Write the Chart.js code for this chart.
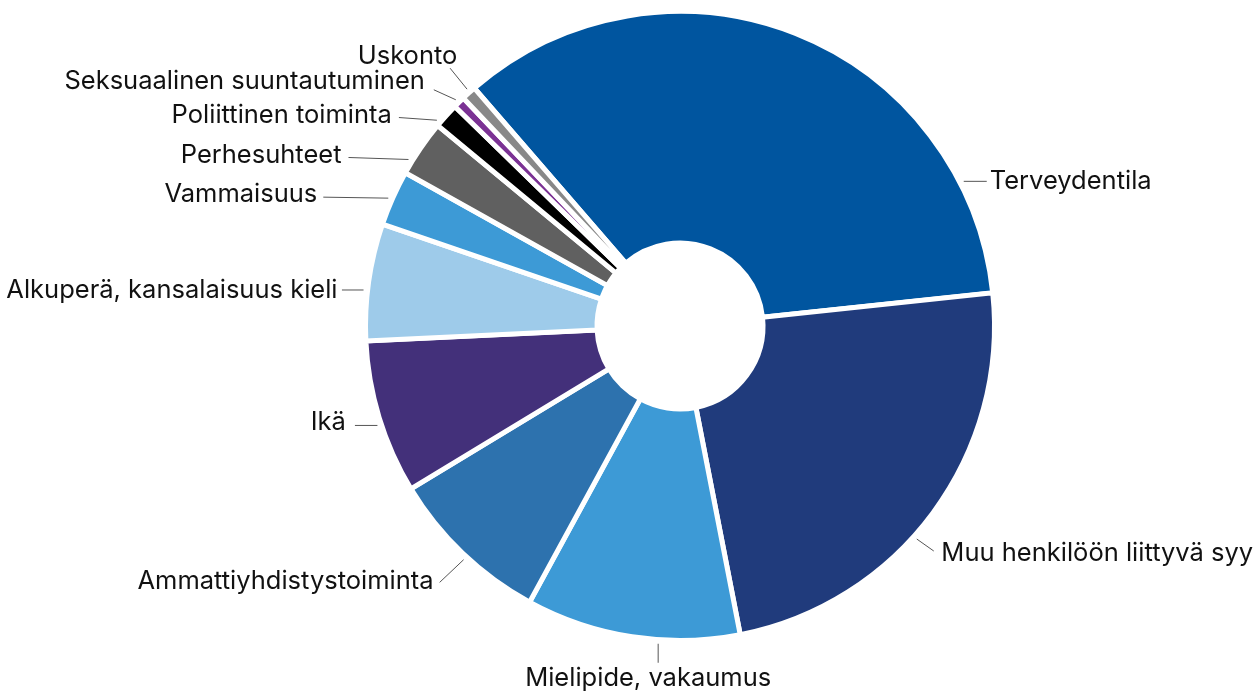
<!DOCTYPE html>
<html>
<head>
<meta charset="utf-8">
<script src="https://cdn.jsdelivr.net/npm/chart.js@4.4.1/dist/chart.umd.min.js"></script>
<style>
  html, body { margin: 0; padding: 0; background: #ffffff; }
  #wrap { width: 1257px; height: 691px; position: relative; overflow: hidden; }
</style>
</head>
<body>
<div id="wrap"><canvas id="c" width="1257" height="691"></canvas></div>
<script>
// ---- data ----
const categories = [
  'Terveydentila',
  'Muu henkilöön liittyvä syy',
  'Mielipide, vakaumus',
  'Ammattiyhdistystoiminta',
  'Ikä',
  'Alkuperä, kansalaisuus kieli',
  'Vammaisuus',
  'Perhesuhteet',
  'Poliittinen toiminta',
  'Seksuaalinen suuntautuminen',
  'Uskonto'
];
const values = [34.65, 23.6, 11.0, 8.4, 7.9, 6.0, 2.85, 2.9, 1.3, 0.6, 0.75];

// ---- styles ----
const sliceColors = [
  '#00559f', '#203b7c', '#3d9ad6', '#2d72ae', '#43307a', '#9ecbea',
  '#3d9ad6', '#606060', '#000000', '#7b3294', '#888888'
];

// label placement: position along slice (0..1), leader vector, text alignment/offset
const labelLayout = [
  { at: 0.832, dx: 23,    dy: 0,     align: 'left',   tx: 3,    ty: 0 },
  { at: 0.565, dx: 17,    dy: 12,    align: 'left',   tx: 7.6,  ty: 2.6 },
  { at: 0.378, dx: 0,     dy: 19,    align: 'center', tx: -10,  ty: 16 },
  { at: 0.47,  dx: -24,   dy: 22.7,  align: 'right',  tx: -6,   ty: -1 },
  { at: 0.456, dx: -22.5, dy: 0,     align: 'right',  tx: -9,   ty: -2.7 },
  { at: 0.426, dx: -21.6, dy: 0,     align: 'right',  tx: -4.4, ty: 0 },
  { at: 0.465, dx: -65,   dy: -1,    align: 'right',  tx: -6,   ty: -3 },
  { at: 0.226, dx: -60,   dy: -2,    align: 'right',  tx: -7,   ty: -2 },
  { at: 0.137, dx: -38,   dy: -2.7,  align: 'right',  tx: -7,   ty: -2 },
  { at: 0.45,  dx: -22,   dy: -10,   align: 'right',  tx: -9,   ty: -8.7 },
  { at: 0.59,  dx: -17,   dy: -21,   align: 'right',  tx: 7.3,  ty: -12 }
];

const outerLabels = {
  id: 'outerLabels',
  afterDatasetsDraw(chart) {
    const ctx = chart.ctx;
    const meta = chart.getDatasetMeta(0);
    ctx.save();
    ctx.font = '400 25.5px Inter, "Noto Sans", sans-serif';
    meta.data.forEach((arc, i) => {
      const p = arc.getProps(['x', 'y', 'startAngle', 'endAngle', 'outerRadius']);
      const L = labelLayout[i];
      const a = p.startAngle + (p.endAngle - p.startAngle) * L.at;
      const r = p.outerRadius + 4;
      const x0 = p.x + r * Math.cos(a);
      const y0 = p.y + r * Math.sin(a);
      const x1 = x0 + L.dx;
      const y1 = y0 + L.dy;
      ctx.beginPath();
      ctx.moveTo(x0, y0);
      ctx.lineTo(x1, y1);
      ctx.strokeStyle = '#555555';
      ctx.lineWidth = 1;
      ctx.stroke();
      ctx.fillStyle = '#111111';
      ctx.textAlign = L.align;
      ctx.textBaseline = 'middle';
      ctx.fillText(chart.data.labels[i], x1 + L.tx, y1 + L.ty);
    });
    ctx.restore();
  }
};

new Chart(document.getElementById('c'), {
  type: 'doughnut',
  data: {
    labels: categories,
    datasets: [{
      data: values,
      backgroundColor: sliceColors,
      borderColor: '#ffffff',
      borderWidth: 5,
      borderJoinStyle: 'miter',
      radius: 314.5,
      cutout: '26.39%',
      rotation: -40.85,
      hoverOffset: 0
    }]
  },
  options: {
    responsive: false,
    devicePixelRatio: 1,
    animation: false,
    events: [],
    layout: { padding: { left: 103, right: 0, top: 0, bottom: 39 } },
    plugins: {
      legend: { display: false },
      tooltip: { enabled: false }
    }
  },
  plugins: [outerLabels]
});
</script>
</body>
</html>
